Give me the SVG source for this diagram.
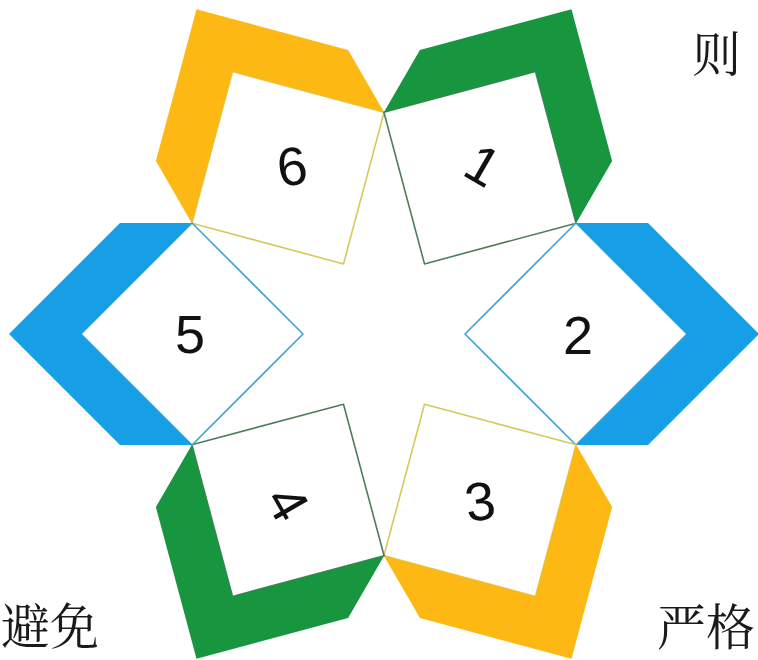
<svg xmlns="http://www.w3.org/2000/svg" width="758" height="660" viewBox="0 0 758 660">
  <style>
    .face { fill: #ffffff; stroke-width: 1.6; stroke-linejoin: round; }
    .yellow { fill: #FDB813; }
    .green { fill: #17963F; }
    .blue { fill: #169FE6; }
    .sy { stroke: #D8C85C; }
    .sg { stroke: #4F7D5C; }
    .sb { stroke: #3FA6CF; }
    .num { font-family: "Liberation Sans", "DejaVu Sans", sans-serif; font-size: 54px; fill: #111; text-anchor: middle; }
    .cjk { font-family: "Noto Serif CJK SC", "Noto Sans CJK SC", serif; font-size: 49px; fill: #1a1a1a; }
  </style>
  <rect width="758" height="660" fill="#ffffff"/>

  <g id="node-6">
    <polygon class="face sy" points="191.9,223.2 232.5,71.6 384.1,112.2 343.5,263.9"/>
    <polygon class="yellow" points="191.9,223.2 155.9,160.9 196.5,9.2 348.1,49.9 384.1,112.2 232.5,71.6"/>
    <g transform="translate(292,166) rotate(-8)"><text class="num" x="0" y="19">6</text></g>
  </g>

  <g id="node-1">
    <polygon class="face sg" points="383.9,112.2 535.5,71.6 576.1,223.2 424.5,263.9"/>
    <polygon class="green" points="383.9,112.2 419.9,49.9 571.5,9.2 612.1,160.9 576.1,223.2 535.5,71.6"/>
    <g transform="translate(483,165) rotate(30)"><text class="num" x="0" y="19">1</text></g>
  </g>

  <g id="node-2">
    <polygon class="face sb" points="576,223 687,334 576,445 465,334"/>
    <polygon class="blue" points="576,223 648,223 759,334 648,445 576,445 687,334"/>
    <text class="num" x="578" y="354">2</text>
  </g>

  <g id="node-3">
    <polygon class="face sy" points="576.1,444.8 535.5,596.4 383.9,555.8 424.5,404.2"/>
    <polygon class="yellow" points="576.1,444.8 612.1,507.1 571.5,658.8 419.9,618.1 383.9,555.8 535.5,596.4"/>
    <g transform="translate(480,501) rotate(-8)"><text class="num" x="0" y="19">3</text></g>
  </g>

  <g id="node-4">
    <polygon class="face sg" points="384.1,555.8 232.5,596.4 191.9,444.8 343.5,404.2"/>
    <polygon class="green" points="384.1,555.8 348.1,618.1 196.5,658.8 155.9,507.1 191.9,444.8 232.5,596.4"/>
    <g transform="translate(288,503) rotate(60)"><text class="num" x="0" y="19">4</text></g>
  </g>

  <g id="node-5">
    <polygon class="face sb" points="192,223 303,334 192,445 81,334"/>
    <polygon class="blue" points="192,223 120,223 9,334 120,445 192,445 81,334"/>
    <text class="num" x="190" y="353">5</text>
  </g>

  <g id="connectors"></g>

  <g id="texts">
    <text class="cjk" x="692" y="72">则</text>
    <text class="cjk" x="1" y="644">避免</text>
    <text class="cjk" x="657" y="645">严格</text>
  </g>
</svg>
